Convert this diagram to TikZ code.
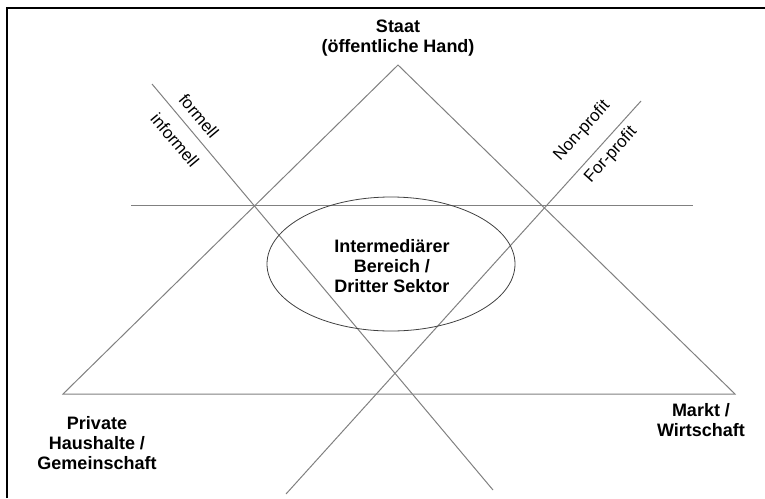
\documentclass[tikz,border=0pt]{standalone}
\usepackage{fontspec}
\setmainfont{Liberation Sans}
\usetikzlibrary{shapes.geometric}
\tikzset{
  guide/.style={draw=black!50, line width=1pt},
  corner/.style={align=center, font=\fontsize{18}{20}\selectfont\bfseries, inner sep=0pt},
  tag/.style={font=\fontsize{17}{19}\selectfont, inner sep=0pt},
}
\begin{document}
\begin{tikzpicture}[x=1pt, y=-1pt]
\useasboundingbox (0,0) rectangle (765,498);
% outer frame (open to the right and bottom)
\draw[line width=2pt, black] (7,498) -- (7,8) -- (765,8);

% triangle corners
\coordinate (top) at (398,65);
\coordinate (bl) at (63,394);
\coordinate (br) at (735,394);
\draw[guide] (top) -- (bl) -- (br) -- cycle;

% horizontal divider
\coordinate (hl) at (131,205);
\coordinate (hr) at (693,205);
\draw[guide] (hl) -- (hr);

% formell / informell divider
\coordinate (fa) at (152,84);
\coordinate (fb) at (493,490);
\draw[guide] (fa) -- (fb);

% non-profit / for-profit divider
\coordinate (na) at (641,101);
\coordinate (nb) at (286,494);
\draw[guide] (na) -- (nb);

% central sector
\node[ellipse, draw=black!75, line width=0.8pt, minimum width=248pt, minimum height=134pt] (mid) at (391,264) {};
\node[corner] (midtext) at (392,266) {Intermediärer\\Bereich /\\Dritter Sektor};

% corner labels
\node[corner] (staat) at (398,38) {Staat\\(öffentliche Hand)};
\node[corner] (haus) at (97,443) {Private\\Haushalte /\\Gemeinschaft};
\node[corner] (markt) at (701,420) {Markt /\\Wirtschaft};

% divider labels
\node[tag, rotate=-50] (formell) at (199,116) {formell};
\node[tag, rotate=-50] (informell) at (175,140) {informell};
\node[tag, rotate=48] (nonprofit) at (582,131) {Non-profit};
\node[tag, rotate=48] (forprofit) at (611,155) {For-profit};
\end{tikzpicture}
\end{document}
